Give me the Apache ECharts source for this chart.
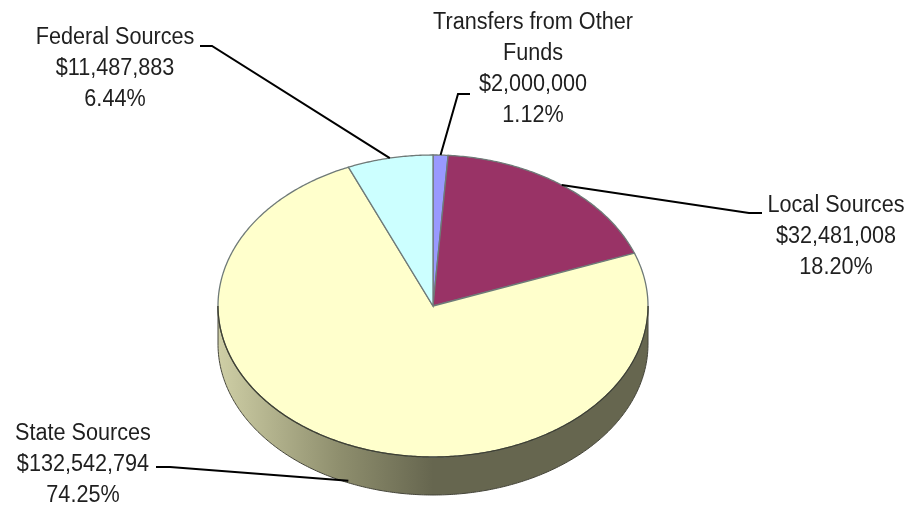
<!DOCTYPE html>
<html>
<head>
<meta charset="utf-8">
<style>
  html, body { margin: 0; padding: 0; background: #fff; }
  #chart { width: 909px; height: 506px; }
</style>
<script src="https://cdn.jsdelivr.net/npm/echarts@6/dist/echarts.min.js"></script>
</head>
<body>
<div id="chart"></div>
<script>
// Revenue by source, clockwise from twelve o'clock.
const categories = ['Transfers from Other\nFunds', 'Local Sources', 'State Sources', 'Federal Sources'];
const amounts = [2000000, 32481008, 132542794, 11487883];
const amountLabels = ['$2,000,000', '$32,481,008', '$132,542,794', '$11,487,883'];
const percentLabels = ['1.12%', '18.20%', '74.25%', '6.44%'];
const sliceColors = ['#9999ff', '#993366', '#ffffcc', '#ccffff'];

// Tilted-disc geometry.
const disc = { cx: 433, cy: 306, rx: 215, ry: 151, depth: 38 };
const total = amounts.reduce((a, b) => a + b, 0);

// Leader elbow and text anchor for each slice, in the same order as the data.
const callouts = [
  { elbow: [[470, 94], [458, 94]], tx: 533, ty: 7 },
  { elbow: [[762, 213], [749, 213]], tx: 836, ty: 190.5 },
  { elbow: [[156, 467], [170, 467]], tx: 83, ty: 418 },
  { elbow: [[200, 46], [212, 46]], tx: 115, ty: 22.5 }
];

const rim = (a, dy) => [
  disc.cx + disc.rx * Math.sin(a),
  disc.cy + disc.ry * -Math.cos(a) + (dy || 0)
];

function arc(a0, a1, dy) {
  const pts = [];
  const n = Math.max(2, Math.ceil(Math.abs(a1 - a0) / 0.01));
  for (let i = 0; i <= n; i++) pts.push(rim(a0 + (a1 - a0) * i / n, dy));
  return pts;
}

function renderSlice(params, api) {
  const i = params.dataIndex;
  let before = 0;
  for (let k = 0; k < i; k++) before += amounts[k];
  const a0 = before / total * 2 * Math.PI;
  const a1 = (before + api.value(0)) / total * 2 * Math.PI;
  const mid = (a0 + a1) / 2;
  const children = [];

  // Side wall: the part of the slice that faces the viewer.
  const w0 = Math.max(a0, Math.PI / 2);
  const w1 = Math.min(a1, Math.PI * 3 / 2);
  const hasWall = w1 > w0;
  if (hasWall) {
    children.push({
      type: 'polygon',
      shape: { points: arc(w0, w1, 0).concat(arc(w1, w0, disc.depth)) },
      style: {
        fill: new echarts.graphic.LinearGradient(0, 0, 1, 0, [
          { offset: 0, color: '#cfcfa6' },
          { offset: 0.28, color: '#8f8f6e' },
          { offset: 0.5, color: '#66664f' },
          { offset: 1, color: '#66664f' }
        ]),
        stroke: '#45453a',
        lineWidth: 1
      }
    });
  }

  // Top face of the slice.
  children.push({
    type: 'polygon',
    shape: { points: [[disc.cx, disc.cy]].concat(arc(a0, a1, 0)) },
    style: { fill: sliceColors[i], stroke: '#6f7a78', lineWidth: 1.3 }
  });

  // Darker edge where the top face meets the wall.
  if (hasWall) {
    children.push({
      type: 'polyline',
      shape: { points: arc(w0, w1, 0) },
      style: { fill: null, stroke: '#3f3f30', lineWidth: 1.2 }
    });
  }

  // Leader line from the slice's rim, through an elbow, toward the text.
  const c = callouts[i];
  const front = mid > Math.PI / 2 && mid < Math.PI * 3 / 2;
  children.push({
    type: 'polyline',
    shape: { points: c.elbow.concat([rim(mid, front ? disc.depth - 2 : 0)]) },
    style: { fill: null, stroke: '#000', lineWidth: 2 }
  });

  // Category, amount and share, set in slightly condensed type.
  children.push({
    type: 'text',
    x: c.tx,
    y: c.ty,
    scaleX: 0.94,
    style: {
      x: 0,
      y: 0,
      text: [categories[i], amountLabels[i], percentLabels[i]].join('\n'),
      font: '23px "Liberation Sans", Arial, sans-serif',
      lineHeight: 31,
      fill: '#1f1f1f',
      align: 'center',
      verticalAlign: 'top'
    }
  });

  return { type: 'group', children: children };
}

const chart = echarts.init(document.getElementById('chart'), null, { renderer: 'canvas' });
chart.setOption({
  animation: false,
  backgroundColor: '#fff',
  series: [{
    type: 'custom',
    coordinateSystem: 'none',
    renderItem: renderSlice,
    data: amounts.map((v, i) => ({ name: categories[i], value: [v] }))
  }]
});
</script>
</body>
</html>
